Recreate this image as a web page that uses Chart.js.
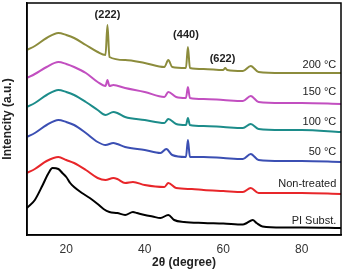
<!DOCTYPE html>
<html>
<head>
<meta charset="utf-8">
<script src="https://cdn.jsdelivr.net/npm/chart.js@4/dist/chart.umd.min.js"></script>
<style>
  html, body { margin: 0; padding: 0; background: #fff; }
  #wrap { width: 342px; height: 269px; }
</style>
</head>
<body>
<div id="wrap"><canvas id="xrd"></canvas></div>
<script>
// XRD patterns (intensity in arbitrary units, offset per curve)
const piX = [10, 12, 14, 15.5, 16.5, 18, 19, 20, 21, 22, 24, 26, 28, 29.5, 31, 33, 35, 37, 38, 40, 42, 44, 46, 47.5, 50, 55, 60, 65, 66, 67.5, 68.5, 70, 75, 80, 90];
const piY = [27, 35, 50, 62, 67, 66, 62, 58, 52, 48, 42, 37, 31, 26, 23, 22, 20, 23, 22, 20, 18.5, 17, 20, 15, 13, 12, 11.5, 10.5, 12, 15, 12, 8.5, 7.5, 7.5, 7];

const ntX = [10, 12, 15, 18, 20, 22, 25, 28, 30, 32, 33, 35, 37, 40, 45, 46, 48, 52, 55, 60, 65, 67, 69, 75, 80, 90];
const ntY = [62, 66, 74, 78, 75, 72, 65, 57, 55, 57, 56, 52, 53, 50, 48, 52, 47, 46, 45, 44, 43, 47, 42, 42, 42, 41];

const c50X = [10, 12, 15, 18, 20, 22, 25, 28, 30, 32, 33, 35, 40, 44, 45.5, 47, 50.5, 51, 51.5, 55, 60, 65, 67, 69, 75, 80, 90];
const c50Y = [98, 102, 110, 115, 113, 110, 102, 93, 90, 92, 91, 88, 85, 82, 86, 80, 78, 95, 78, 78, 77, 76, 81, 75, 74, 74, 73];

const c100X = [10, 12, 15, 18, 20, 22, 25, 28, 30, 32, 33, 35, 40, 45, 46, 48, 50.5, 51, 51.5, 55, 60, 65, 67, 69, 75, 80, 90];
const c100Y = [128, 132, 140, 145, 143, 140, 133, 125, 120, 123, 122, 118, 115, 112, 116, 111, 110, 117, 110, 109, 108, 107, 111, 106, 105, 105, 103];

const c150X = [10, 12, 15, 18, 20, 22, 25, 28, 30, 30.5, 31, 32, 35, 40, 45, 46, 48, 50.5, 51, 51.5, 55, 60, 65, 67, 69, 75, 80, 90];
const c150Y = [157, 161, 168, 173, 171, 168, 162, 153, 149, 155, 149, 150, 147, 143, 138, 143, 138, 137, 148, 137, 136, 135, 134, 139, 133, 132, 132, 131];

const c200X = [10, 12, 15, 18, 20, 22, 25, 28, 30, 30.5, 31, 35, 40, 45, 46, 47, 50.5, 51, 51.5, 55, 60, 60.5, 61, 65, 67, 69, 75, 80, 90];
const c200Y = [185, 189, 197, 202, 200, 197, 190, 183, 180, 210, 178, 175, 172, 168, 175, 168, 167, 188, 167, 166, 165, 167, 165, 164, 169, 163, 162, 162, 162];

const seriesNames = ['PI Subst.', 'Non-treated', '50 \u00B0C', '100 \u00B0C', '150 \u00B0C', '200 \u00B0C'];
const seriesColors = ['#000000', '#e8262a', '#3b4fb3', '#1c8c8a', '#c24fc0', '#8c8c3c'];
const seriesX = [piX, ntX, c50X, c100X, c150X, c200X];
const seriesY = [piY, ntY, c50Y, c100Y, c150Y, c200Y];

// curve labels: [x, y] in data units, right aligned
const labelPos = [[88.8, 14], [88.8, 51], [88.8, 83], [88.8, 113], [88.8, 143], [88.8, 170]];
// reflection indices
const peakNames = ['(222)', '(440)', '(622)'];
const peakPos = [[30.5, 220], [50.5, 200], [59.8, 176]];

const xTicks = [10, 20, 30, 40, 50, 60, 70, 80, 90];
const xLabels = [20, 40, 60, 80];

const datasets = seriesNames.map((name, i) => ({
  label: name,
  data: seriesX[i].map((x, j) => ({ x: x, y: seriesY[i][j] })),
  borderColor: seriesColors[i],
  backgroundColor: seriesColors[i],
  borderWidth: 2,
  pointRadius: 0,
  fill: false,
  cubicInterpolationMode: 'monotone'
}));

const textPlugin = {
  id: 'texts',
  afterDraw(chart) {
    const ctx = chart.ctx;
    const xs = chart.scales.x, ys = chart.scales.y;
    const a = chart.chartArea;
    ctx.save();
    ctx.strokeStyle = '#000';
    ctx.lineWidth = 1.5;
    ctx.strokeRect(a.left, a.top, a.right - a.left, a.bottom - a.top);
    ctx.fillStyle = '#222';
    ctx.font = '11px "Liberation Sans", Arial, sans-serif';
    ctx.textAlign = 'right';
    ctx.textBaseline = 'middle';
    labelPos.forEach((p, i) => {
      ctx.fillText(seriesNames[i], xs.getPixelForValue(p[0]), ys.getPixelForValue(p[1]));
    });
    ctx.font = 'bold 11px "Liberation Sans", Arial, sans-serif';
    ctx.textAlign = 'center';
    peakPos.forEach((p, i) => {
      ctx.fillText(peakNames[i], xs.getPixelForValue(p[0]), ys.getPixelForValue(p[1]));
    });
    ctx.restore();
  }
};

new Chart(document.getElementById('xrd'), {
  type: 'line',
  data: { datasets },
  options: {
    responsive: true,
    maintainAspectRatio: false,
    animation: false,
    layout: { padding: { top: 3, right: 0, left: 0, bottom: 0 } },
    plugins: { legend: { display: false }, tooltip: { enabled: false } },
    scales: {
      x: {
        type: 'linear',
        min: 10,
        max: 90,
        afterBuildTicks: (s) => { s.ticks = xTicks.map(v => ({ value: v })); },
        afterFit: (s) => { s.height = 34; s.paddingRight = 1; },
        grid: { display: false, drawTicks: true, tickLength: 3 },
        border: { display: true, color: '#000', width: 1.5 },
        ticks: {
          color: '#333', padding: 4, autoSkip: false, maxRotation: 0,
          font: { size: 12, family: '"Liberation Sans", Arial, sans-serif' },
          callback: (v) => xLabels.includes(v) ? String(v) : ''
        },
        title: { display: true, text: '2\u03B8 (degree)', color: '#222', padding: { top: 0, bottom: 0 },
          font: { size: 12, weight: 'bold', lineHeight: 1, family: '"Liberation Sans", Arial, sans-serif' } }
      },
      y: {
        min: 0,
        max: 232,
        afterFit: (s) => { s.width = 27; },
        grid: { display: false },
        border: { display: true, color: '#000', width: 1.5 },
        ticks: { display: false },
        title: { display: true, text: 'Intencity (a.u.)', color: '#222', padding: { top: 0, bottom: 4 },
          font: { size: 12, weight: 'bold', family: '"Liberation Sans", Arial, sans-serif' } }
      }
    }
  },
  plugins: [textPlugin]
});
</script>
</body>
</html>
